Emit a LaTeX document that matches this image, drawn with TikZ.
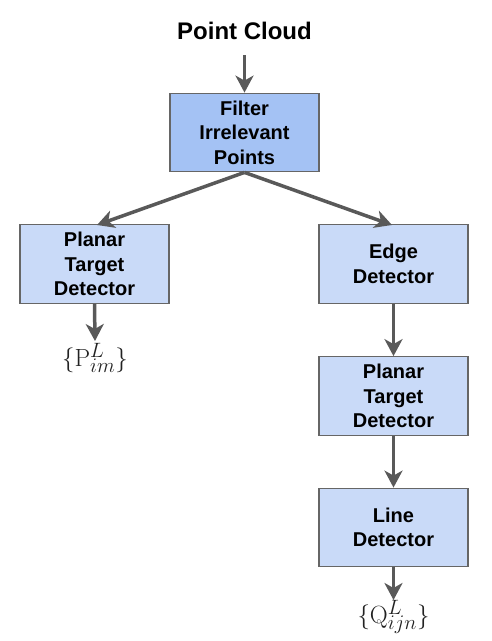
\documentclass[tikz,border=0pt]{standalone}
\usepackage[no-math]{fontspec}
\setmainfont{Liberation Sans}
\usetikzlibrary{arrows.meta}
\definecolor{boxdark}{HTML}{A4C2F4}
\definecolor{boxlight}{HTML}{C9DAF8}
\definecolor{edgegray}{HTML}{595959}
\definecolor{bordergray}{HTML}{666666}
\definecolor{mathgray}{HTML}{222222}
\tikzset{
  stepbox/.style={draw=bordergray, line width=1.3pt, fill=boxlight, minimum width=149pt, minimum height=78.5pt, inner sep=0pt, align=center, font=\fontsize{20}{24.5}\selectfont\bfseries},
  flow/.style={draw=edgegray, line width=3.5pt, -{Stealth[length=17pt, width=18pt, inset=5pt]}},
  mathlabel/.style={inner sep=0pt, text=mathgray, font=\fontsize{28}{32}\selectfont}
}
\begin{document}
\begin{tikzpicture}[x=1pt, y=-1pt]
\useasboundingbox (0,0) rectangle (492,641);
\node[font=\fontsize{24}{28}\selectfont\bfseries, inner sep=0pt] (pc) at (244.5,31) {Point Cloud};
\coordinate (pcend) at (244.5,55);
\node[stepbox, fill=boxdark] (filter) at (244.5,132.5) {Filter\\Irrelevant\\Points};
\node[stepbox] (ptd1) at (94.5,264) {Planar\\Target\\Detector};
\node[stepbox] (edge) at (393.5,264) {Edge\\Detector};
\node[stepbox] (ptd2) at (393.5,396) {Planar\\Target\\Detector};
\node[stepbox] (line) at (393.5,527.5) {Line\\Detector};
\node[mathlabel] (P) at (95,358) {$\{\mathrm{P}^L_{im}\}$};
\node[mathlabel] (Q) at (393.5,617) {$\{\mathrm{Q}^L_{ijn}\}$};
\coordinate (ltop) at (97,225);
\coordinate (rtop) at (392,225);
\draw[flow] (pcend) -- (filter.north);
\draw[flow] (filter.south) -- (ltop);
\draw[flow] (filter.south) -- (rtop);
\draw[flow] (ptd1.south) -- (95,341) coordinate (pend);
\draw[flow] (edge.south) -- (ptd2.north);
\draw[flow] (ptd2.south) -- (line.north);
\draw[flow] (line.south) -- (393.5,600) coordinate (qend);
\end{tikzpicture}
\end{document}
